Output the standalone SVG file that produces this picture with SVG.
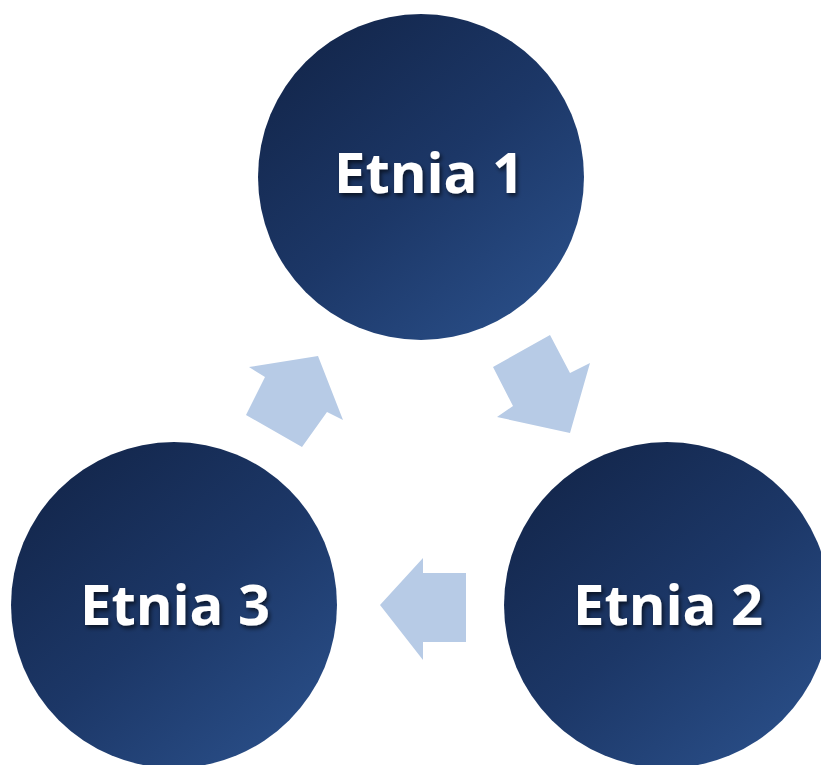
<svg xmlns="http://www.w3.org/2000/svg" width="821" height="765" viewBox="0 0 821 765">
  <defs>
    <linearGradient id="navy" x1="0.15" y1="0.05" x2="0.9" y2="0.95">
      <stop offset="0" stop-color="#13264b"/>
      <stop offset="0.5" stop-color="#1c3767"/>
      <stop offset="1" stop-color="#2a4f89"/>
    </linearGradient>
    <filter id="tshadow" x="-10%" y="-30%" width="130%" height="160%">
      <feDropShadow dx="2" dy="3" stdDeviation="2" flood-color="#000000" flood-opacity="0.6"/>
    </filter>
    <style>
      .node { fill: url(#navy); }
      .label { font-family: "Open Sans", "Noto Sans", "Liberation Sans", sans-serif; font-weight: bold; font-size: 56px; fill: #ffffff; text-anchor: middle; filter: url(#tshadow); }
      .arrow { fill: #b7cbe6; }
    </style>
  </defs>
  <rect width="821" height="765" fill="#ffffff"/>
  <g id="connectors">
    <polygon class="arrow" points="318,356 249,367 265,377 246,415 302,447 327,412 343,420"/>
    <polygon class="arrow" points="550,335 493,367 513,406 497,417 570,433 590,363 570,373"/>
    <polygon class="arrow" points="380,605 423,558 423,573 466,573 466,642 423,642 423,660"/>
  </g>
  <g id="etnia1">
    <circle class="node" cx="421" cy="177" r="163"/>
    <text class="label" x="429" y="193">Etnia 1</text>
  </g>
  <g id="etnia2">
    <circle class="node" cx="667" cy="605" r="163"/>
    <text class="label" x="668" y="625">Etnia 2</text>
  </g>
  <g id="etnia3">
    <circle class="node" cx="174" cy="605" r="163"/>
    <text class="label" x="175" y="625">Etnia 3</text>
  </g>
</svg>
